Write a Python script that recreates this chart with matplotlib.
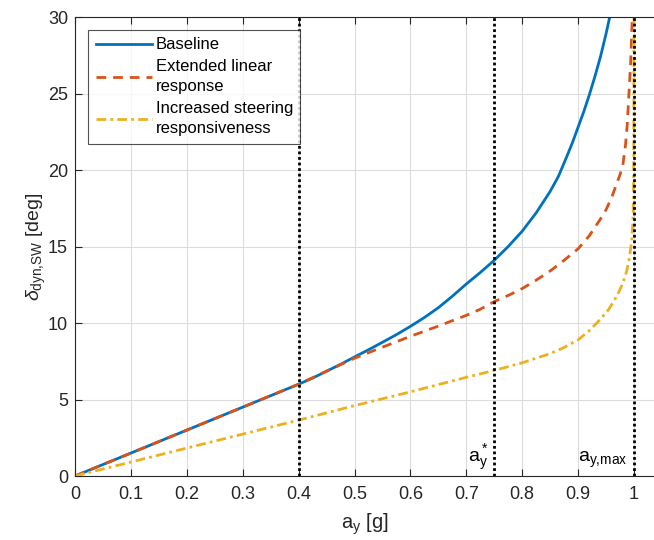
import matplotlib
matplotlib.use('Agg')
import matplotlib.pyplot as plt

plt.rcParams['font.family'] = ['Liberation Sans', 'DejaVu Sans']
plt.rcParams['mathtext.fontset'] = 'custom'
plt.rcParams['mathtext.rm'] = 'Liberation Sans'
plt.rcParams['mathtext.it'] = 'Liberation Sans:italic'

# Baseline
ay_base = [0, 0.4, 0.425, 0.45, 0.475, 0.5, 0.525, 0.55, 0.575, 0.6, 0.625, 0.65, 0.675, 0.7, 0.725,
           0.75, 0.775, 0.8, 0.825, 0.85, 0.865, 0.88, 0.89, 0.9, 0.91, 0.92, 0.93, 0.94, 0.95, 0.959]
d_base = [0, 6.0, 6.4, 6.85, 7.3, 7.78, 8.25, 8.74, 9.24, 9.78, 10.36, 11.0, 11.75, 12.55, 13.3,
          14.1, 15.0, 16.0, 17.2, 18.6, 19.6, 20.9, 21.8, 22.8, 23.8, 24.9, 26.1, 27.4, 28.9, 30.4]

# Extended linear response
ay_ext = [0, 0.4, 0.45, 0.5, 0.55, 0.6, 0.65, 0.7, 0.725, 0.75, 0.775, 0.8, 0.825, 0.85, 0.875, 0.9,
          0.92, 0.94, 0.95, 0.96, 0.97, 0.975, 0.98, 0.985, 0.988, 0.991, 0.994, 0.997, 0.998]
d_ext = [0, 6.0, 6.85, 7.7, 8.42, 9.13, 9.8, 10.5, 10.9, 11.4, 11.8, 12.25, 12.8, 13.4, 14.1, 14.85,
         15.7, 16.8, 17.4, 18.2, 19.2, 19.7, 20.3, 21.7, 23.0, 25.0, 27.0, 30.0, 31.0]

# Increased steering responsiveness
ay_inc = [0, 0.4, 0.5, 0.6, 0.7, 0.75, 0.8, 0.85, 0.875, 0.9, 0.92, 0.94, 0.955, 0.97, 0.98, 0.987,
          0.992, 0.996, 0.998, 0.999, 0.9995, 1.0]
d_inc = [0, 3.65, 4.6, 5.5, 6.45, 6.9, 7.4, 8.0, 8.4, 8.9, 9.5, 10.25, 10.9, 11.8, 12.6, 13.4,
         14.3, 15.4, 16.6, 18.0, 21.0, 30.5]

vlines = [0.4, 0.75, 1.0]

fig = plt.figure(figsize=(6.54, 5.40), dpi=100)
ax = fig.add_axes([0.1147, 0.1185, 0.8853, 0.85])

ax.plot(ay_base, d_base, color='#0072BD', lw=2.0, label='Baseline')
ax.plot(ay_ext, d_ext, color='#D95319', lw=2.0, ls=(0, (3.5, 2.5)), label='Extended linear\nresponse')
ax.plot(ay_inc, d_inc, color='#EDB120', lw=2.0, ls=(0, (3.5, 1.5, 1, 1.5)),
        label='Increased steering\nresponsiveness')
for v in vlines:
    ax.axvline(v, color='black', lw=2.0, ls=(0, (1, 1)))

ax.text(0.703, 0.9, r'$\mathrm{a_y^*}$', fontsize=14)
ax.text(0.9, 0.9, r'$\mathrm{a_{y{,}max}}$', fontsize=14)

ax.set_xlim(0, 1.0358)
ax.set_ylim(0, 30)
ax.set_xticks([0, 0.1, 0.2, 0.3, 0.4, 0.5, 0.6, 0.7, 0.8, 0.9, 1])
ax.set_xticklabels(['0', '0.1', '0.2', '0.3', '0.4', '0.5', '0.6', '0.7', '0.8', '0.9', '1'])
ax.set_yticks([0, 5, 10, 15, 20, 25, 30])
ax.grid(True, color='#dcdcdc', lw=0.8)
ax.set_axisbelow(True)
ax.tick_params(direction='in', labelsize=13, top=True, length=5, color='#262626', labelcolor='#262626')
ax.tick_params(axis='x', pad=7)
ax.tick_params(axis='y', pad=5)
for s in ['left', 'bottom', 'top']:
    ax.spines[s].set_color('#262626')
ax.spines['right'].set_visible(False)

ax.set_xlabel(r'$\mathrm{a_y}$ [g]', fontsize=14.5, color='#262626', labelpad=6)
ax.set_ylabel(r'$\delta_{\mathrm{dyn{,}SW}}$ [deg]', fontsize=14, color='#262626', labelpad=0)

leg = ax.legend(loc='upper left', bbox_to_anchor=(0.0225, 0.972), borderaxespad=0, fontsize=12, frameon=True,
                fancybox=False, edgecolor='#262626', handlelength=3.4, handletextpad=0.2,
                borderpad=0.45, labelspacing=0.4)
leg.get_frame().set_linewidth(0.8)
for t in leg.get_texts():
    t.set_linespacing(1.45)

fig.savefig('out.png', dpi=100)
